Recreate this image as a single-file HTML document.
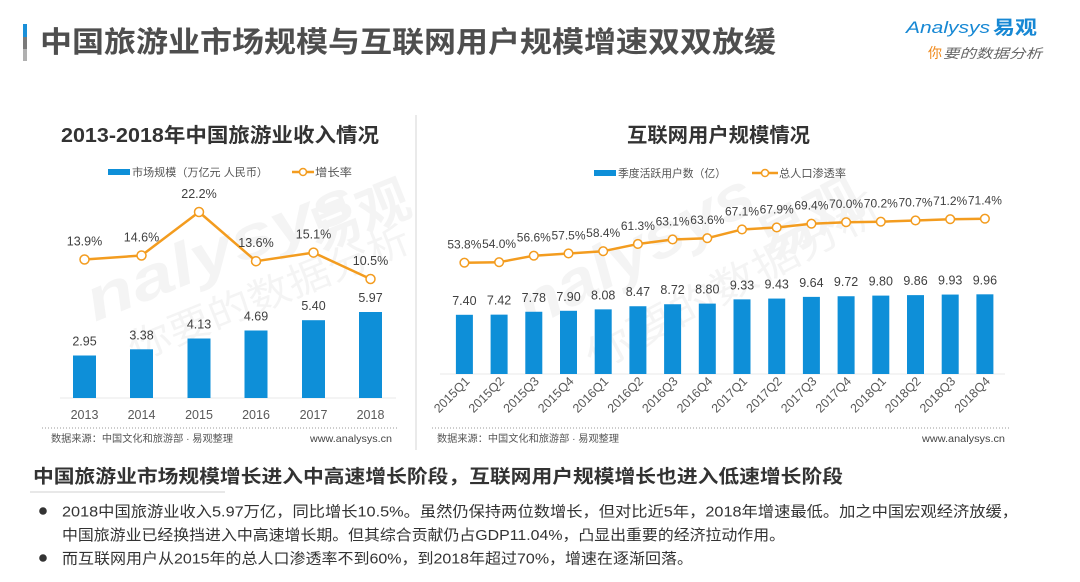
<!DOCTYPE html>
<html><head><meta charset="utf-8"><style>
html,body{margin:0;padding:0;background:#fff;}
svg{display:block;}
text{font-family:"Liberation Sans","Noto Sans CJK SC",sans-serif;}
</style></head><body>
<svg width="1080" height="582" viewBox="0 0 1080 582" xmlns="http://www.w3.org/2000/svg">
<rect width="1080" height="582" fill="#fff"/>

<!-- watermarks -->
<g fill="#000" opacity="0.04" font-weight="bold">
  <text x="95" y="322" font-size="60" font-style="italic" transform="rotate(-22 95 322)" textLength="285" lengthAdjust="spacingAndGlyphs">nalysys</text>
  <text x="318" y="252" font-size="52" transform="rotate(-22 318 252)">易观</text>
  <text x="135" y="362" font-size="38" font-weight="normal" transform="rotate(-22 135 362)" textLength="300" lengthAdjust="spacingAndGlyphs">你要的数据分析</text>
  <text x="530" y="330" font-size="62" font-style="italic" transform="rotate(-28 530 330)" textLength="260" lengthAdjust="spacingAndGlyphs">nalysys</text>
  <text x="770" y="262" font-size="55" transform="rotate(-28 770 262)">易观</text>
  <text x="595" y="372" font-size="40" font-weight="normal" transform="rotate(-28 595 372)" textLength="330" lengthAdjust="spacingAndGlyphs">你要的数据分析</text>
</g>

<!-- header -->
<rect x="23" y="24" width="4" height="13" fill="#1a8fd8"/>
<rect x="23" y="37" width="4" height="12" fill="#7a7a7a"/>
<rect x="23" y="49" width="4" height="12" fill="#b0b0b0"/>
<text x="40" y="52" font-size="29" font-weight="bold" fill="#4e4e4e" textLength="736" lengthAdjust="spacingAndGlyphs">中国旅游业市场规模与互联网用户规模增速双双放缓</text>

<text x="906" y="33" font-size="17" font-style="italic" fill="#1788d4" textLength="84" lengthAdjust="spacingAndGlyphs">Analysys</text>
<text x="993" y="34" font-size="19" font-weight="bold" fill="#1788d4" textLength="44" lengthAdjust="spacingAndGlyphs">易观</text>
<text x="928" y="58" font-size="14" fill="#f08a1c">你</text>
<text x="943" y="58" font-size="13" font-style="italic" fill="#666" textLength="99" lengthAdjust="spacingAndGlyphs">要的数据分析</text>

<!-- divider -->
<line x1="416" y1="115" x2="416" y2="450" stroke="#e4e4e4" stroke-width="1.5"/>

<!-- LEFT CHART -->
<text x="61" y="142" font-size="20" font-weight="bold" fill="#333" textLength="318" lengthAdjust="spacingAndGlyphs">2013-2018年中国旅游业收入情况</text>
<rect x="108" y="169" width="22" height="6" fill="#0e8fd8"/>
<text x="132" y="176" font-size="11" fill="#555" textLength="136" lengthAdjust="spacingAndGlyphs">市场规模（万亿元 人民币）</text>
<line x1="292" y1="172" x2="314" y2="172" stroke="#f39c1f" stroke-width="2.5"/>
<circle cx="303" cy="172" r="3.5" fill="#fff" stroke="#f39c1f" stroke-width="1.5"/>
<text x="315" y="176" font-size="11" fill="#555" textLength="37" lengthAdjust="spacingAndGlyphs">增长率</text>

<line x1="60" y1="398" x2="396" y2="398" stroke="#e8e8e8" stroke-width="1"/>
<g fill="#0e8fd8">
  <rect x="73" y="355.5" width="23" height="42.5"/>
  <rect x="130" y="349.3" width="23" height="48.7"/>
  <rect x="187.5" y="338.5" width="23" height="59.5"/>
  <rect x="244.5" y="330.5" width="23" height="67.5"/>
  <rect x="302" y="320.2" width="23" height="77.8"/>
  <rect x="359" y="312" width="23" height="86"/>
</g>
<g font-size="12.5" fill="#404040" text-anchor="middle">
  <text x="84.5" y="345.5">2.95</text>
  <text x="141.5" y="339.3">3.38</text>
  <text x="199" y="328.5">4.13</text>
  <text x="256" y="320.5">4.69</text>
  <text x="313.5" y="310.2">5.40</text>
  <text x="370.5" y="302">5.97</text>
</g>
<polyline points="84.5,259.5 141.5,255.5 199,212 256,261.2 313.5,252.6 370.5,279" fill="none" stroke="#f39c1f" stroke-width="2.5" stroke-linejoin="round"/>
<g fill="#fff" stroke="#f39c1f" stroke-width="1.5">
  <circle cx="84.5" cy="259.5" r="4.5"/>
  <circle cx="141.5" cy="255.5" r="4.5"/>
  <circle cx="199" cy="212" r="4.5"/>
  <circle cx="256" cy="261.2" r="4.5"/>
  <circle cx="313.5" cy="252.6" r="4.5"/>
  <circle cx="370.5" cy="279" r="4.5"/>
</g>
<g font-size="12.5" fill="#404040" text-anchor="middle">
  <text x="84.5" y="245.5">13.9%</text>
  <text x="141.5" y="241.5">14.6%</text>
  <text x="199" y="198">22.2%</text>
  <text x="256" y="247.2">13.6%</text>
  <text x="313.5" y="238.6">15.1%</text>
  <text x="370.5" y="265">10.5%</text>
</g>
<g font-size="12.5" fill="#595959" text-anchor="middle">
  <text x="84.5" y="419">2013</text>
  <text x="141.5" y="419">2014</text>
  <text x="199" y="419">2015</text>
  <text x="256" y="419">2016</text>
  <text x="313.5" y="419">2017</text>
  <text x="370.5" y="419">2018</text>
</g>
<line x1="42" y1="428" x2="398" y2="428" stroke="#9a9a9a" stroke-width="1" stroke-dasharray="1,2"/>
<text x="51" y="442" font-size="10" fill="#555" textLength="182" lengthAdjust="spacingAndGlyphs">数据来源：中国文化和旅游部 · 易观整理</text>
<text x="310" y="442" font-size="10.5" fill="#444" textLength="82" lengthAdjust="spacingAndGlyphs">www.analysys.cn</text>

<!-- RIGHT CHART -->
<text x="627" y="142" font-size="20" font-weight="bold" fill="#333" textLength="183" lengthAdjust="spacingAndGlyphs">互联网用户规模情况</text>
<rect x="594" y="170" width="22" height="6" fill="#0e8fd8"/>
<text x="618" y="177" font-size="11" fill="#555" textLength="108" lengthAdjust="spacingAndGlyphs">季度活跃用户数（亿）</text>
<line x1="752" y1="173" x2="778" y2="173" stroke="#f39c1f" stroke-width="2.5"/>
<circle cx="765" cy="173" r="3.5" fill="#fff" stroke="#f39c1f" stroke-width="1.5"/>
<text x="779" y="177" font-size="11" fill="#555" textLength="67" lengthAdjust="spacingAndGlyphs">总人口渗透率</text>

<line x1="440" y1="374" x2="1005" y2="374" stroke="#e8e8e8" stroke-width="1"/>
<g fill="#0e8fd8">
  <rect x="455.9" y="314.8" width="17" height="59.2"/>
  <rect x="490.6" y="314.64" width="17" height="59.36"/>
  <rect x="525.3" y="311.76" width="17" height="62.24"/>
  <rect x="560" y="310.8" width="17" height="63.2"/>
  <rect x="594.7" y="309.36" width="17" height="64.64"/>
  <rect x="629.4" y="306.24" width="17" height="67.76"/>
  <rect x="664.1" y="304.24" width="17" height="69.76"/>
  <rect x="698.8" y="303.6" width="17" height="70.4"/>
  <rect x="733.5" y="299.36" width="17" height="74.64"/>
  <rect x="768.2" y="298.56" width="17" height="75.44"/>
  <rect x="802.9" y="296.88" width="17" height="77.12"/>
  <rect x="837.6" y="296.24" width="17" height="77.76"/>
  <rect x="872.3" y="295.6" width="17" height="78.4"/>
  <rect x="907" y="295.12" width="17" height="78.88"/>
  <rect x="941.7" y="294.56" width="17" height="79.44"/>
  <rect x="976.4" y="294.32" width="17" height="79.68"/>
</g>
<g font-size="12.5" fill="#404040" text-anchor="middle">
  <text x="464.4" y="304.8">7.40</text>
  <text x="499.1" y="304.6">7.42</text>
  <text x="533.8" y="301.8">7.78</text>
  <text x="568.5" y="300.8">7.90</text>
  <text x="603.2" y="299.4">8.08</text>
  <text x="637.9" y="296.2">8.47</text>
  <text x="672.6" y="294.2">8.72</text>
  <text x="707.3" y="293.6">8.80</text>
  <text x="742" y="289.4">9.33</text>
  <text x="776.7" y="288.6">9.43</text>
  <text x="811.4" y="286.9">9.64</text>
  <text x="846.1" y="286.2">9.72</text>
  <text x="880.8" y="285.6">9.80</text>
  <text x="915.5" y="285.1">9.86</text>
  <text x="950.2" y="284.6">9.93</text>
  <text x="984.9" y="284.3">9.96</text>
</g>
<polyline points="464.4,262.7 499.1,262.2 533.8,255.7 568.5,253.45 603.2,251.2 637.9,243.95 672.6,239.45 707.3,238.2 742,229.45 776.7,227.45 811.4,223.7 846.1,222.2 880.8,221.7 915.5,220.45 950.2,219.2 984.9,218.7" fill="none" stroke="#f39c1f" stroke-width="2.5" stroke-linejoin="round"/>
<g fill="#fff" stroke="#f39c1f" stroke-width="1.5">
  <circle cx="464.4" cy="262.7" r="4.3"/>
  <circle cx="499.1" cy="262.2" r="4.3"/>
  <circle cx="533.8" cy="255.7" r="4.3"/>
  <circle cx="568.5" cy="253.45" r="4.3"/>
  <circle cx="603.2" cy="251.2" r="4.3"/>
  <circle cx="637.9" cy="243.95" r="4.3"/>
  <circle cx="672.6" cy="239.45" r="4.3"/>
  <circle cx="707.3" cy="238.2" r="4.3"/>
  <circle cx="742" cy="229.45" r="4.3"/>
  <circle cx="776.7" cy="227.45" r="4.3"/>
  <circle cx="811.4" cy="223.7" r="4.3"/>
  <circle cx="846.1" cy="222.2" r="4.3"/>
  <circle cx="880.8" cy="221.7" r="4.3"/>
  <circle cx="915.5" cy="220.45" r="4.3"/>
  <circle cx="950.2" cy="219.2" r="4.3"/>
  <circle cx="984.9" cy="218.7" r="4.3"/>
</g>
<g font-size="12" fill="#404040" text-anchor="middle">
  <text x="464.4" y="248.7">53.8%</text>
  <text x="499.1" y="248.2">54.0%</text>
  <text x="533.8" y="241.7">56.6%</text>
  <text x="568.5" y="239.45">57.5%</text>
  <text x="603.2" y="237.2">58.4%</text>
  <text x="637.9" y="229.95">61.3%</text>
  <text x="672.6" y="225.45">63.1%</text>
  <text x="707.3" y="224.2">63.6%</text>
  <text x="742" y="215.45">67.1%</text>
  <text x="776.7" y="213.45">67.9%</text>
  <text x="811.4" y="209.7">69.4%</text>
  <text x="846.1" y="208.2">70.0%</text>
  <text x="880.8" y="207.7">70.2%</text>
  <text x="915.5" y="206.45">70.7%</text>
  <text x="950.2" y="205.2">71.2%</text>
  <text x="984.9" y="204.7">71.4%</text>
</g>
<g font-size="12.5" fill="#595959" text-anchor="end">
  <text x="470.4" y="382" transform="rotate(-45 470.4 382)">2015Q1</text>
  <text x="505.1" y="382" transform="rotate(-45 505.1 382)">2015Q2</text>
  <text x="539.8" y="382" transform="rotate(-45 539.8 382)">2015Q3</text>
  <text x="574.5" y="382" transform="rotate(-45 574.5 382)">2015Q4</text>
  <text x="609.2" y="382" transform="rotate(-45 609.2 382)">2016Q1</text>
  <text x="643.9" y="382" transform="rotate(-45 643.9 382)">2016Q2</text>
  <text x="678.6" y="382" transform="rotate(-45 678.6 382)">2016Q3</text>
  <text x="713.3" y="382" transform="rotate(-45 713.3 382)">2016Q4</text>
  <text x="748" y="382" transform="rotate(-45 748 382)">2017Q1</text>
  <text x="782.7" y="382" transform="rotate(-45 782.7 382)">2017Q2</text>
  <text x="817.4" y="382" transform="rotate(-45 817.4 382)">2017Q3</text>
  <text x="852.1" y="382" transform="rotate(-45 852.1 382)">2017Q4</text>
  <text x="886.8" y="382" transform="rotate(-45 886.8 382)">2018Q1</text>
  <text x="921.5" y="382" transform="rotate(-45 921.5 382)">2018Q2</text>
  <text x="956.2" y="382" transform="rotate(-45 956.2 382)">2018Q3</text>
  <text x="990.9" y="382" transform="rotate(-45 990.9 382)">2018Q4</text>
</g>
<line x1="432" y1="428" x2="1010" y2="428" stroke="#9a9a9a" stroke-width="1" stroke-dasharray="1,2"/>
<text x="437" y="442" font-size="10" fill="#555" textLength="182" lengthAdjust="spacingAndGlyphs">数据来源：中国文化和旅游部 · 易观整理</text>
<text x="922" y="442" font-size="10.5" fill="#444" textLength="83" lengthAdjust="spacingAndGlyphs">www.analysys.cn</text>

<!-- bottom text -->
<text x="33" y="483" font-size="18.5" font-weight="bold" fill="#333" textLength="810" lengthAdjust="spacingAndGlyphs">中国旅游业市场规模增长进入中高速增长阶段，互联网用户规模增长也进入低速增长阶段</text>
<line x1="30" y1="492" x2="225" y2="492" stroke="#e0e0e0" stroke-width="1.5"/>
<circle cx="43" cy="511" r="3.8" fill="#333"/>
<text x="62" y="516.5" font-size="15" fill="#333" textLength="956" lengthAdjust="spacingAndGlyphs">2018中国旅游业收入5.97万亿，同比增长10.5%。虽然仍保持两位数增长，但对比近5年，2018年增速最低。加之中国宏观经济放缓，</text>
<text x="62" y="540" font-size="15" fill="#333" textLength="723" lengthAdjust="spacingAndGlyphs">中国旅游业已经换挡进入中高速增长期。但其综合贡献仍占GDP11.04%，凸显出重要的经济拉动作用。</text>
<circle cx="43" cy="558" r="3.8" fill="#333"/>
<text x="62" y="563.5" font-size="15" fill="#333" textLength="631" lengthAdjust="spacingAndGlyphs">而互联网用户从2015年的总人口渗透率不到60%，到2018年超过70%，增速在逐渐回落。</text>
</svg>
</body></html>
